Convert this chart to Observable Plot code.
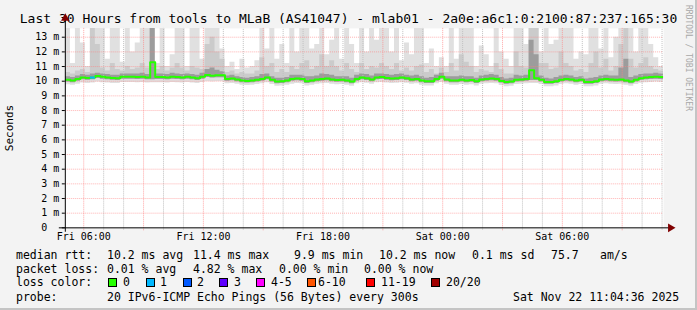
<!DOCTYPE html>
<html><head><meta charset="utf-8">
<script src="https://cdn.jsdelivr.net/npm/d3@7"></script>
<script src="https://cdn.jsdelivr.net/npm/@observablehq/plot@0.6"></script>
<style>
html,body{margin:0;padding:0;background:#f3f3f3;}
#wrap{position:relative;width:697px;height:310px;background:#f3f3f3;overflow:hidden;font-family:"DejaVu Sans Mono",monospace;color:#000;box-sizing:border-box;border-right:2px solid #c4c4c4;border-bottom:2px solid #c4c4c4;}
#wrap svg{position:absolute;left:0;top:0;}
.t{position:absolute;white-space:pre;font-size:11.5px;line-height:14px;}
.title{position:absolute;left:0;top:11px;width:697px;text-align:center;font-size:13px;line-height:16px;white-space:pre;}
.box{position:absolute;width:7px;height:7px;border:1px solid #000;}
.ylab{position:absolute;left:10px;top:128px;font-size:11px;line-height:12px;transform:translate(-50%,-50%) rotate(-90deg);white-space:pre;}
.wm{position:absolute;left:688px;top:58px;font-size:8px;line-height:9px;color:#a8a8a8;transform:translate(-50%,-50%) rotate(90deg);white-space:pre;}
</style></head>
<body>
<div id="wrap"></div>
<script>
// ---- data (15-minute steps from Fri 05:05) ----
const median = [10.10,10.05,10.15,10.25,10.22,10.25,10.35,10.30,10.25,10.22,
 10.20,10.30,10.30,10.30,10.28,10.30,10.25,11.30,10.28,10.28,
 10.25,10.30,10.28,10.25,10.30,10.25,10.20,10.30,10.42,10.38,
 10.40,10.40,10.15,10.18,10.12,10.05,10.02,10.05,10.10,10.15,
 10.25,10.10,9.98,10.00,10.05,10.15,10.18,10.15,10.00,10.05,
 10.12,10.15,10.18,10.12,10.08,10.10,10.05,9.98,10.15,10.25,
 10.20,10.12,10.25,10.28,10.22,10.18,10.20,10.25,10.20,10.12,
 10.15,10.05,10.00,10.00,10.15,10.30,10.12,10.05,10.05,10.10,
 10.05,10.08,10.00,10.12,10.15,10.18,10.15,10.02,9.95,9.98,
 10.10,10.12,10.15,10.75,10.20,10.10,9.95,9.95,10.00,10.10,
 10.15,10.12,10.05,10.10,9.95,9.95,10.00,10.12,10.15,10.12,
 10.10,10.12,10.05,9.98,10.10,10.20,10.25,10.28,10.30,10.28];
const loss = [0,0,0,0,0,1,0,0,0,0, 0,0,0,0,0,0,0,0,0,0, 0,0,0,0,0,0,0,0,0,0,
 0,0,0,0,0,0,0,0,0,0, 0,0,0,0,0,0,0,0,0,0, 0,0,0,0,0,0,0,0,0,0,
 0,0,0,0,0,0,0,0,0,0, 0,0,0,0,0,0,0,0,0,0, 0,0,0,0,0,0,0,0,0,0,
 0,0,0,0,0,0,0,0,0,0, 0,0,0,0,0,0,0,0,0,0, 0,0,0,0,0,0,0,0,0,0];
const smokeHi = [13.6,11.2,13.6,12.6,11.0,13.6,13.6,13.6,11.5,13.6,
 13.6,11.3,13.6,12.0,12.6,13.6,13.6,13.6,11.2,13.6,
 11.0,11.8,13.6,13.6,11.0,13.6,13.6,11.5,13.6,13.6,
 13.6,12.2,11.0,11.3,10.8,11.5,10.9,11.0,11.4,13.6,
 12.2,13.6,11.5,12.5,11.2,13.6,12.0,13.6,13.6,12.2,
 12.5,13.6,11.8,12.8,13.6,11.5,13.6,12.5,11.2,13.6,
 12.0,13.6,12.8,13.6,13.6,12.0,13.6,11.4,12.6,11.8,
 13.6,13.6,11.2,12.2,11.0,11.6,11.0,13.6,11.5,13.6,
 13.6,13.6,11.0,12.4,11.8,11.0,13.6,12.0,11.5,11.0,
 13.6,13.6,12.5,13.6,13.6,12.0,13.6,12.5,12.8,13.6,
 13.6,13.6,11.5,12.0,11.8,13.6,13.6,12.2,13.6,11.6,
 13.0,13.6,13.6,13.6,12.0,13.6,13.6,12.5,11.6,11.0];
const smokeMid = [10.6,10.5,10.7,10.8,10.6,13.6,12.5,10.9,10.7,11.2,
 10.8,10.7,11.0,10.8,10.9,11.2,10.9,13.6,10.8,11.0,
 10.7,10.9,11.2,10.9,10.7,11.0,10.9,10.8,12.5,13.0,
 12.0,11.5,10.6,10.7,10.5,10.6,10.5,10.5,10.7,11.6,
 11.0,11.2,10.6,10.8,10.6,11.0,10.8,11.2,11.4,10.8,
 11.0,11.8,11.0,11.4,11.0,10.7,11.2,10.8,10.6,11.2,
 10.8,11.0,10.9,11.2,11.0,10.8,11.2,10.7,10.9,10.7,
 11.0,11.1,10.6,10.8,10.5,10.9,10.6,11.2,10.7,11.8,
 11.3,11.0,10.6,10.8,10.7,10.6,11.2,10.8,10.5,10.5,
 12.0,11.0,10.9,13.6,13.6,11.2,11.2,10.8,10.9,12.0,
 11.2,11.0,10.7,10.8,10.6,11.2,12.0,10.9,11.5,10.7,
 11.0,12.5,13.6,11.5,10.9,11.2,11.6,11.0,10.8,10.7];
const smokeDark = [10.30,10.25,10.35,10.45,10.40,10.50,10.55,10.50,10.45,10.40,
 10.40,10.50,10.50,10.50,10.50,10.55,10.45,13.60,10.50,10.50,
 10.45,10.55,10.50,10.45,10.50,10.45,10.40,10.55,10.80,10.90,
 10.75,10.65,10.35,10.40,10.30,10.25,10.20,10.25,10.30,10.45,
 10.50,10.30,10.20,10.20,10.25,10.40,10.40,10.40,10.30,10.30,
 10.35,10.50,10.45,10.40,10.30,10.30,10.30,10.20,10.40,10.50,
 10.45,10.35,10.50,10.50,10.45,10.40,10.45,10.50,10.40,10.35,
 10.40,10.30,10.20,10.25,10.40,10.55,10.30,10.30,10.30,10.35,
 10.30,10.30,10.20,10.35,10.40,10.45,10.40,10.25,10.15,10.20,
 10.40,10.35,10.40,12.80,11.80,10.35,10.20,10.15,10.25,10.35,
 10.40,10.35,10.25,10.30,10.15,10.20,10.25,10.35,10.40,10.35,
 10.35,10.90,11.50,10.25,10.35,10.45,10.50,10.50,10.55,10.50];
const smokeLo = [9.75,9.72,9.80,9.88,9.85,9.88,9.95,9.90,9.88,9.85,
 9.85,9.92,9.92,9.92,9.90,9.92,9.88,9.90,9.90,9.90,
 9.88,9.92,9.90,9.88,9.92,9.88,9.85,9.92,9.98,9.96,
 9.98,9.98,9.82,9.85,9.80,9.72,9.70,9.72,9.78,9.82,
 9.90,9.78,9.65,9.68,9.72,9.80,9.85,9.82,9.68,9.72,
 9.80,9.82,9.85,9.80,9.75,9.78,9.72,9.65,9.82,9.90,
 9.86,9.80,9.90,9.92,9.88,9.85,9.86,9.90,9.86,9.80,
 9.82,9.72,9.68,9.68,9.82,9.92,9.80,9.72,9.72,9.78,
 9.72,9.75,9.68,9.80,9.82,9.85,9.82,9.70,9.62,9.65,
 9.78,9.80,9.82,9.85,9.85,9.78,9.62,9.62,9.68,9.78,
 9.82,9.80,9.72,9.78,9.62,9.62,9.68,9.80,9.82,9.80,
 9.78,9.80,9.72,9.65,9.78,9.86,9.90,9.92,9.95,9.92];
const smokeLo2 = [9.95,9.90,10.00,10.10,10.07,10.10,10.18,10.14,10.10,10.07,
 10.05,10.14,10.14,10.14,10.12,10.14,10.10,10.10,10.12,10.12,
 10.10,10.14,10.12,10.10,10.14,10.10,10.05,10.14,10.25,10.22,
 10.24,10.24,10.00,10.03,9.97,9.90,9.87,9.90,9.95,10.00,
 10.10,9.95,9.83,9.85,9.90,10.00,10.03,10.00,9.85,9.90,
 9.97,10.00,10.03,9.97,9.93,9.95,9.90,9.83,10.00,10.10,
 10.05,9.97,10.10,10.12,10.07,10.03,10.05,10.10,10.05,9.97,
 10.00,9.90,9.85,9.85,10.00,10.14,9.97,9.90,9.90,9.95,
 9.90,9.93,9.85,9.97,10.00,10.03,10.00,9.87,9.80,9.83,
 9.95,9.97,10.00,10.05,10.05,9.95,9.80,9.80,9.85,9.95,
 10.00,9.97,9.90,9.95,9.80,9.80,9.85,9.97,10.00,9.97,
 9.95,9.97,9.90,9.83,9.95,10.05,10.10,10.12,10.14,10.12];

const yTicks = [0,1,2,3,4,5,6,7,8,9,10,11,12,13];
const yTickLabels = ["0\u00a0\u00a0","1 m","2 m","3 m","4 m","5 m","6 m","7 m","8 m","9 m","10 m","11 m","12 m","13 m"];
const xTickTimes = ["2025-11-21T06:00:00Z","2025-11-21T12:00:00Z","2025-11-21T18:00:00Z","2025-11-22T00:00:00Z","2025-11-22T06:00:00Z"];
const xTickLabels = ["Fri 06:00","Fri 12:00","Fri 18:00","Sat 00:00","Sat 06:00"];

const lossLabels = ["0","1","2","3","4-5","6-10","11-19","20/20"];
const lossColors = ["#26ff00","#00b8ff","#0059ff","#5e00ff","#ff00ff","#ff5500","#ff0000","#a10000"];

const titleText = "Last 30 Hours from tools to MLaB (AS41047) - mlab01 - 2a0e:a6c1:0:2100:87:237:165:30";
const statsRtt = ["median rtt:","10.2 ms avg","11.4 ms max","9.9 ms min","10.2 ms now","0.1 ms sd","75.7","am/s"];
const statsLoss = ["packet loss:","0.01 % avg","4.82 % max","0.00 % min","0.00 % now"];
const probeText = ["probe:","20 IPv6-ICMP Echo Pings (56 Bytes) every 300s","Sat Nov 22 11:04:36 2025"];

// ---- build ----
const xStart = new Date(Date.UTC(2025,10,21,5,4,36));
const xEnd = new Date(Date.UTC(2025,10,22,11,4,36));
const t0 = Date.UTC(2025,10,21,5,5);
const STEP = 15*60e3;
const rows = median.map((m,i)=>({t:new Date(t0+i*STEP), t2:new Date(t0+(i+1)*STEP), m, hi:smokeHi[i], mid:smokeMid[i], dark:smokeDark[i], lo:smokeLo[i], lo2:smokeLo2[i], loss:loss[i]}));
const rowsC = rows.concat([{...rows[rows.length-1], t:new Date(t0+rows.length*STEP)}]);
function lossColor(l){ if(l<=0) return lossColors[0]; if(l===1) return lossColors[1]; if(l===2) return lossColors[2]; if(l===3) return lossColors[3]; if(l<=5) return lossColors[4]; if(l<=10) return lossColors[5]; if(l<=19) return lossColors[6]; return lossColors[7]; }

const allHours = d3.utcHour.range(xStart, xEnd);
const majorHours = allHours.filter(d => d.getUTCHours()%3===0);
const minorHours = allHours.filter(d => d.getUTCHours()%3!==0);
const PXMS = 3*60e3; // one pixel of time

const font = "DejaVu Sans Mono, monospace";
const svg = Plot.plot({
  width: 697, height: 310,
  marginLeft: 65, marginRight: 32, marginTop: 28, marginBottom: 82,
  style: {background: "transparent", fontFamily: font, color: "#000", overflow: "visible"},
  x: {type: "utc", domain: [xStart, xEnd]},
  y: {domain: [0, 13.6]},
  marks: [
    Plot.frame({fill: "white", stroke: "none"}),
    Plot.areaY(rowsC, {x: "t", y1: "lo", y2: "hi", curve: "step-after", fill: "#e0e0e0", clip: true}),
    Plot.areaY(rowsC, {x: "t", y1: "lo2", y2: "mid", curve: "step-after", fill: "#cbcbcb", clip: true}),
    Plot.areaY(rowsC, {x: "t", y1: "lo2", y2: "dark", curve: "step-after", fill: "#9c9c9c", clip: true}),
    Plot.ruleX(minorHours, {y1: -0.15, y2: 13.6, stroke: "#c0c0c0", strokeDasharray: "1,1"}),
    Plot.ruleX(majorHours, {y1: -0.2, y2: 13.6, stroke: "#ff8080", strokeOpacity: 0.7, strokeDasharray: "1,1"}),
    Plot.ruleY(yTicks.slice(1), {stroke: "#ff8080", strokeOpacity: 0.6, strokeDasharray: "1,1"}),
    Plot.lineY(rowsC, {x: "t", y: "m", curve: "step-after", stroke: lossColors[0], strokeWidth: 2, clip: true}),
    Plot.ruleY(rows.filter(d => d.loss > 0), {x1: "t", x2: "t2", y: "m", stroke: d => lossColor(d.loss), strokeWidth: 2}),
    Plot.ruleX([xStart], {y1: -0.3, y2: 14.15, stroke: "#000"}),
    Plot.ruleY([0], {x1: new Date(+xStart - 6*PXMS), x2: new Date(+xEnd + 6*PXMS), stroke: "#000"}),
    Plot.dot([xStart], {x: d => d, y: 14.3, symbol: "triangle", r: 3.2, fill: "#800000", stroke: "none"}),
    Plot.dot([xEnd], {x: d => new Date(+d + 7*PXMS), y: 0, symbol: "triangle", rotate: 90, r: 3.2, fill: "#800000", stroke: "none"}),
    Plot.axisY(yTicks, {tickFormat: (d,i) => yTickLabels[i], tickSize: 3, tickPadding: 3, fontSize: 10, fontFamily: font, label: null}),
    Plot.axisX(xTickTimes.map(s => new Date(s)), {tickFormat: (d,i) => xTickLabels[i], tickSize: 0, tickPadding: 5, fontSize: 10, fontFamily: font, label: null})
  ]
});
const wrap = document.getElementById("wrap");
wrap.appendChild(svg);

function addText(txt, x, y, cls="t"){ const d=document.createElement("div"); d.className=cls; d.textContent=txt; d.style.left=x+"px"; d.style.top=y+"px"; wrap.appendChild(d); return d; }
const title = document.createElement("div"); title.className="title"; title.textContent=titleText; wrap.insertBefore(title, svg);
const yl = document.createElement("div"); yl.className="ylab"; yl.textContent="Seconds"; wrap.appendChild(yl);
const wm = document.createElement("div"); wm.className="wm"; wm.textContent="RRDTOOL / TOBI OETIKER"; wrap.appendChild(wm);

const rttX = [16,107,193,294,379,472,551,600];
statsRtt.forEach((s,i)=>addText(s, rttX[i], 248));
const lossX = [16,107,193,279,364];
statsLoss.forEach((s,i)=>addText(s, lossX[i], 262));
addText("loss color:", 16, 275);
const boxX = [108,146,183,219,256,307,366,431];
const lblX = [123,160,197,234,271,318,381,446];
lossLabels.forEach((s,i)=>{
  const b=document.createElement("div"); b.className="box"; b.style.left=boxX[i]+"px"; b.style.top="278px"; b.style.background=lossColors[i]; wrap.appendChild(b);
  addText(s, lblX[i], 275);
});
const probeX = [16,107,513];
probeText.forEach((s,i)=>addText(s, probeX[i], 290));
</script>
</body></html>
